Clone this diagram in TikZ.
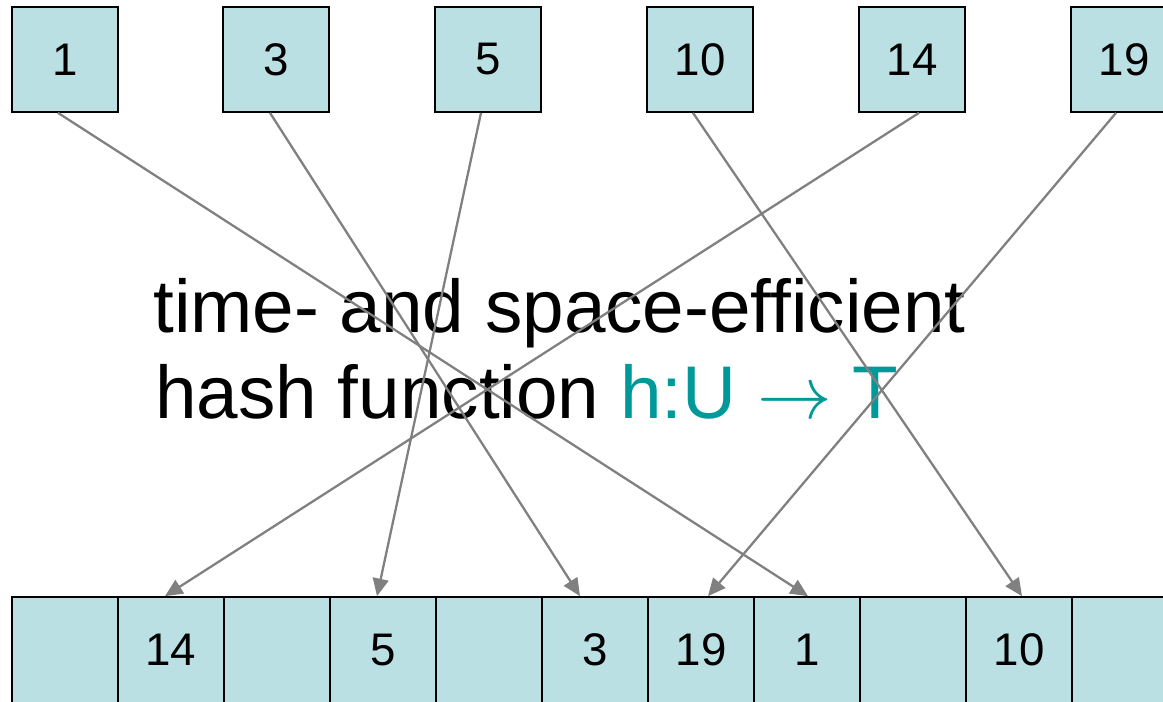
\documentclass[tikz,border=0pt]{standalone}
\usepackage{fix-cm}
\usepackage{fontspec}
\setmainfont{Liberation Sans}
\usetikzlibrary{arrows.meta,calc,positioning}
\definecolor{cellfill}{RGB}{187,224,227}
\definecolor{mapteal}{RGB}{0,153,153}
\definecolor{mapgray}{RGB}{128,128,128}

\begin{document}
\begin{tikzpicture}[x=0.02cm, y=0.02cm, >=Latex,
  keybox/.style={draw=black, line width=1pt, fill=cellfill,
    minimum width=2.12cm, minimum height=2.1cm, inner sep=0pt,
    font=\fontsize{26}{30}\selectfont},
  slot/.style={keybox, minimum height=2.12cm},
  hasharrow/.style={draw=mapgray, line width=1.3pt,
    -{Triangle[length=10pt,width=9pt]}},
  caption/.style={anchor=base west, inner sep=0pt,
    font=\fontsize{42.5}{49}\selectfont}]

\useasboundingbox (0,0) rectangle (1163,701);

% ===== table T (bottom row, runs off both edges) =====
\foreach \i/\val in {0/,1/14,2/,3/5,4/,5/3,6/19,7/1,8/,9/10,10/}
  \node[slot] (c\i) at ({65+106*\i}, 51) {\val};

% ===== keys of U (top row) =====
\foreach \val/\x in {1/65,3/276,5/488,10/700,14/912,19/1124}
  \node[keybox] (k\val) at (\x, 641.5) {\val};

% ===== caption =====
\node[caption] (line1) at (153, 369) {time- and space-efficient};
\node[caption] (line2) at (155, 283)
  {hash function \textcolor{mapteal}{h:U\ $\rightarrow$\ T}};

% ===== hash arrows: key -> slot =====
\foreach \val/\c/\sx/\ex in {1/7/-7/1, 3/5/-6/-15, 5/3/-7/-6,
                             10/9/-7/3, 14/1/7/-6, 19/6/-8/7}
  \draw[hasharrow] ($(k\val.south)+(\sx,0)$) -- ($(c\c.north)+(\ex,0)$);

\end{tikzpicture}
\end{document}
